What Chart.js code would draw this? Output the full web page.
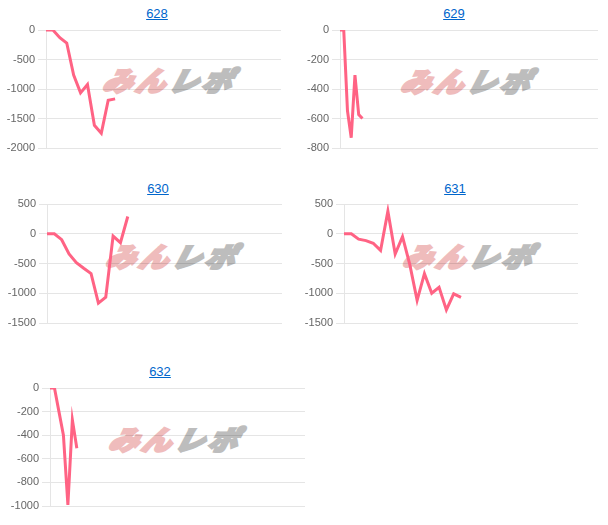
<!DOCTYPE html>
<html>
<head>
<meta charset="utf-8">
<script src="https://cdn.jsdelivr.net/npm/chart.js@4"></script>
<style>
  body { margin: 0; background: #fff; font-family: Arial, "Liberation Sans", sans-serif; }
  #page { position: relative; width: 608px; height: 525px; overflow: hidden; }
  .title { position: absolute; width: 100px; text-align: center; font-size: 13px; line-height: 16px; color: #0066cc; text-decoration: underline; }
  .mark { position: absolute; width: 160px; height: 30px; line-height: 30px; text-align: center; white-space: nowrap;
          font-family: "Noto Sans CJK JP", sans-serif; font-weight: 900; font-style: italic; font-size: 27px;
          letter-spacing: 3px; transform: skewX(-14deg) scaleX(1.1); }
  .mark .a { color: #efbcbc; -webkit-text-stroke: 2.5px #efbcbc; }
  .mark .b { color: #bdbdbd; -webkit-text-stroke: 2.5px #bdbdbd; }
  canvas { position: absolute; }
</style>
</head>
<body>
<div id="page"></div>
<script>
// --- data ---
const series628 = [0, 0, -130, -220, -765, -1065, -923, -1615, -1750, -1190, -1167];
const series629 = [0, 0, -548, -730, -306, -573, -600];
const series630 = [0, 0, -100, -340, -485, -580, -670, -1165, -1065, -40, -150, 290];
const series631 = [0, 0, -90, -115, -160, -280, 380, -340, -50, -520, -1120, -670, -1000, -900, -1280, -1010, -1070];
const series632 = [0, 0, -200, -400, -990, -270, -510];

// number of (hidden) x categories per chart
const xCount628 = 35;
const xCount629 = 70;
const xCount630 = 33;
const xCount631 = 33;
const xCount632 = 58;

const ticks628 = [0, -500, -1000, -1500, -2000];
const ticks629 = [0, -200, -400, -600, -800];
const ticks630 = [500, 0, -500, -1000, -1500];
const ticks631 = [500, 0, -500, -1000, -1500];
const ticks632 = [0, -200, -400, -600, -800, -1000];

const names = ['628', '629', '630', '631', '632'];

// --- layout: canvas box + y axis width, title centre, watermark centre ---
const boxes = [
  { left: 0,   top: 20,  w: 281, h: 138, axis: 46, tx: 157, ty: 14,  mx: 170, my: 80 },
  { left: 300, top: 20,  w: 298, h: 138, axis: 40, tx: 454, ty: 14,  mx: 468, my: 81 },
  { left: 0,   top: 194, w: 282, h: 139, axis: 47, tx: 158, ty: 189, mx: 173, my: 256 },
  { left: 300, top: 194, w: 278, h: 139, axis: 44, tx: 455, ty: 189, mx: 470, my: 256 },
  { left: 0,   top: 378, w: 305, h: 138, axis: 50, tx: 160, ty: 372, mx: 176, my: 439 }
];

const allSeries = [series628, series629, series630, series631, series632];
const allCounts = [xCount628, xCount629, xCount630, xCount631, xCount632];
const allTicks = [ticks628, ticks629, ticks630, ticks631, ticks632];

const page = document.getElementById('page');

names.forEach((name, i) => {
  const b = boxes[i];

  const t = document.createElement('a');
  t.className = 'title';
  t.href = '#';
  t.textContent = name;
  t.style.left = (b.tx - 50) + 'px';
  t.style.top = (b.ty - 8) + 'px';
  page.appendChild(t);

  // watermark sits behind the canvas
  const m = document.createElement('div');
  m.className = 'mark';
  m.innerHTML = '<span class="a">みん</span><span class="b">レポ</span>';
  m.style.left = (b.mx - 80) + 'px';
  m.style.top = (b.my - 15) + 'px';
  page.appendChild(m);

  const c = document.createElement('canvas');
  c.style.left = b.left + 'px';
  c.style.top = b.top + 'px';
  c.style.width = b.w + 'px';
  c.style.height = b.h + 'px';
  c.width = b.w;
  c.height = b.h;
  page.appendChild(c);

  const ticks = allTicks[i];
  const labels = Array.from({ length: allCounts[i] }, (_, k) => String(k + 1));

  new Chart(c.getContext('2d'), {
    type: 'line',
    data: {
      labels: labels,
      datasets: [{
        data: allSeries[i],
        borderColor: 'rgb(255, 99, 132)',
        backgroundColor: 'rgba(255, 99, 132, 0.2)',
        borderWidth: 3,
        pointRadius: 0,
        fill: false,
        tension: 0
      }]
    },
    options: {
      responsive: false,
      animation: false,
      layout: { padding: { top: 10, bottom: 10, left: 0, right: 0 } },
      plugins: { legend: { display: false }, tooltip: { enabled: false } },
      scales: {
        x: { display: false },
        y: {
          min: Math.min(...ticks),
          max: Math.max(...ticks),
          ticks: {
            stepSize: ticks[0] - ticks[1],
            color: '#666',
            font: { family: 'Arial', size: 11 },
            callback: (v) => String(v)
          },
          grid: { color: 'rgba(0,0,0,0.1)', tickLength: 8 },
          border: { color: 'rgba(0,0,0,0.1)' },
          afterFit: (scale) => { scale.width = b.axis; }
        }
      }
    }
  });
});
</script>
</body>
</html>
